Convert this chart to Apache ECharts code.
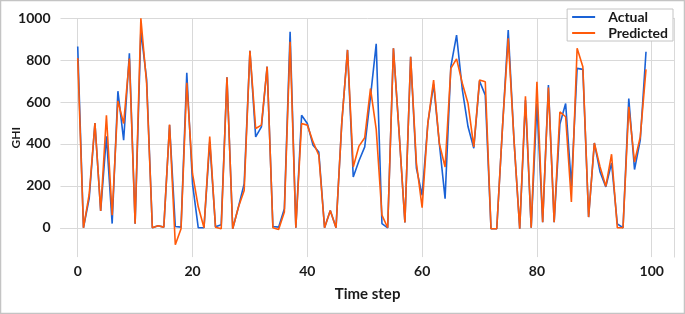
<!DOCTYPE html>
<html>
<head>
<meta charset="utf-8">
<script src="https://cdn.jsdelivr.net/npm/echarts@6/dist/echarts.min.js"></script>
<style>
html,body{margin:0;padding:0;background:#fff}
#chart{width:685px;height:314px}
</style>
</head>
<body>
<div id="chart"></div>
<script>
// GHI, actual vs predicted, time steps 0..99
const actual=[865,0,140,500,80,437,20,652,418,833,
  19,941,710,0,10,3,490,6,3,740,
  210,0,0,410,5,15,718,-5,99,210,
  845,434,482,769,6,3,91,936,0,537,
  498,394,362,0,83,0,500,849,242,320,
  386,625,878,20,0,857,450,25,816,285,
  155,500,685,402,139,769,920,660,482,380,
  700,633,-5,-5,480,944,421,-5,609,0,
  593,27,681,27,495,593,200,761,756,51,
  405,266,195,309,19,0,617,278,418,840];
const predicted=[810,0,160,500,80,537,60,606,498,808,
  19,1000,690,0,10,3,493,-81,-5,692,
  258,100,0,435,3,-5,718,-5,99,178,
  845,474,490,769,0,-8,75,888,0,498,
  490,410,346,0,83,0,500,849,290,390,
  430,665,470,60,0,857,450,25,816,310,
  96,500,705,402,290,761,806,690,593,386,
  705,697,-5,-5,480,904,421,-5,628,0,
  697,27,670,27,553,530,123,857,769,51,
  405,290,198,351,0,0,577,314,434,756];
const xTicks=[0,20,40,60,80,100];
const yTicks=[0,200,400,600,800,1000];

const GRID="#d9d9d9";
const font="Lato, 'Open Sans', sans-serif";

// axes step by 1 / 20 so min can sit off a major tick; only majors get a line + label
const xCycle=Array.from({length:20},(_,i)=>i===3?GRID:"rgba(0,0,0,0)");
const yCycle=Array.from({length:10},(_,i)=>i===7?GRID:"rgba(0,0,0,0)");

const chart=echarts.init(document.getElementById("chart"),null,{renderer:"canvas"});
chart.setOption({
  animation:false,
  backgroundColor:"#fff",
  graphic:[{type:"rect",shape:{x:0.5,y:0.5,width:684,height:313},style:{fill:"none",stroke:"#c4c4c4",lineWidth:1.5},silent:true}],
  grid:{left:60.5,right:10.3,top:18.3,bottom:56.9,outerBoundsMode:"none"},
  legend:{
    right:12,top:9,orient:"vertical",
    backgroundColor:"#fff",borderColor:"#c4c4c4",borderWidth:1,
    padding:[1,5,1,5],itemGap:2,itemWidth:23,itemHeight:2,icon:"rect",
    textStyle:{fontFamily:font,fontWeight:"bold",fontSize:14,color:"#1a1a1a",padding:[0,0,0,8]},
    data:["Actual","Predicted"]
  },
  xAxis:{
    type:"value",min:-3,max:104,interval:1,
    name:"Time step",nameLocation:"middle",nameGap:30,nameMoveOverlap:false,
    nameTextStyle:{fontFamily:font,fontWeight:"bold",fontSize:15,color:"#1a1a1a"},
    axisLine:{show:true,lineStyle:{color:GRID,width:1}},
    axisTick:{show:false},
    axisLabel:{margin:7,fontFamily:font,fontWeight:"bold",fontSize:14,color:"#1a1a1a",
      formatter:v=>xTicks.includes(v)?String(v):""},
    splitLine:{show:true,lineStyle:{color:xCycle,width:1}}
  },
  yAxis:[{
    type:"value",min:-140,max:1000,interval:20,
    name:"GHI",nameLocation:"middle",nameRotate:90,nameGap:38,nameMoveOverlap:false,
    nameTextStyle:{fontFamily:font,fontWeight:"bold",fontSize:12,color:"#1a1a1a"},
    axisLine:{show:false},axisTick:{show:false},
    axisLabel:{margin:10,fontFamily:font,fontWeight:"bold",fontSize:14,color:"#1a1a1a",
      formatter:v=>yTicks.includes(v)?String(v):""},
    splitLine:{show:true,lineStyle:{color:yCycle,width:1}}
  },{
    type:"value",min:-140,max:1000,position:"right",
    axisLine:{show:true,lineStyle:{color:GRID,width:1}},
    axisTick:{show:false},axisLabel:{show:false},splitLine:{show:false}
  }],
  series:[
    {name:"Actual",type:"line",showSymbol:false,symbol:"none",
      color:"#1a62d6",lineStyle:{color:"#1a62d6",width:1.6},
      data:actual.map((v,i)=>[i,v])},
    {name:"Predicted",type:"line",showSymbol:false,symbol:"none",
      color:"#ff5a0a",lineStyle:{color:"#ff5a0a",width:1.6},
      data:predicted.map((v,i)=>[i,v])}
  ]
});
addEventListener("resize",()=>chart.resize());
</script>
</body>
</html>
